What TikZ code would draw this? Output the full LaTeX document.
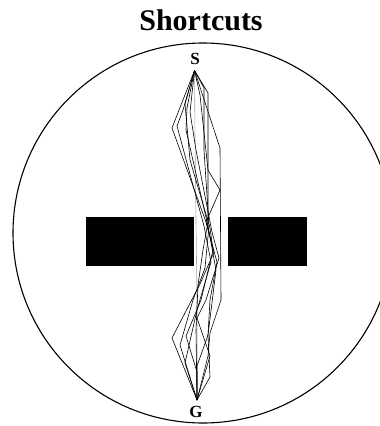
\documentclass[tikz,border=0pt]{standalone}
\usepackage{fontspec}
\setmainfont{Liberation Serif}
\begin{document}
\begin{tikzpicture}[x=1pt,y=-1pt,
  route/.style={line width=0.6pt,line join=miter},
  groute/.style={line width=0.6pt,gray!70},
  lbl/.style={font=\bfseries\fontsize{17}{19}\selectfont,inner sep=0pt,anchor=base},
  wall/.style={fill=black,draw=none}]
\useasboundingbox (0,0) rectangle (380,426);
\node[font=\bfseries\fontsize{30}{32}\selectfont,inner sep=0pt,anchor=base] (title) at (201,30) {Shortcuts};
\draw[line width=1.1pt] (203,233) circle[radius=190];
\fill[wall] (86,217) rectangle (194,266);
\fill[wall] (228,217) rectangle (307,266);
\node[lbl] (slab) at (195,64) {S};
\node[lbl] (glab) at (196,417) {G};
\coordinate (S) at (194.5,70.5);
\coordinate (G) at (197,400);
% straight reference line
\draw[groute] (S) -- (195,140) -- (197,300) -- (G);
% routes
\draw[route] (S) -- (172,128) -- (206,222) -- (214,252) -- (200,284) -- (172,338) -- (G);
\draw[route] (S) -- (183,110) -- (177,126) -- (204,226) -- (211,262) -- (197,310) -- (185,363) -- (G);
\draw[route] (S) -- (187,108) -- (186,130) -- (208,226) -- (216,270) -- (208,335) -- (197,366) -- (G);
\draw[route] (S) -- (208,93) -- (208,222) -- (203,250) -- (198,285) -- (196,330) -- (G);
\draw[route] (S) -- (220,148) -- (221,300) -- (210,333) -- (208,356) -- (G);
\draw[route] (S) -- (200,95) -- (208,170) -- (220,190) -- (206,222) -- (217,262) -- (210,300) -- (208,335) -- (210,377) -- (G);
\draw[route] (S) -- (190,112) -- (196,150) -- (212,232) -- (219,258) -- (206,300) -- (197,318) -- (210,356) -- (G);
\draw[route] (S) -- (185,104) -- (190,160) -- (210,228) -- (213,250) -- (201,300) -- (186,336) -- (197,372) -- (G);
\draw[route] (S) -- (204,88) -- (204,150) -- (209,226) -- (205,268) -- (193,300) -- (180,345) -- (G);
\end{tikzpicture}
\end{document}
